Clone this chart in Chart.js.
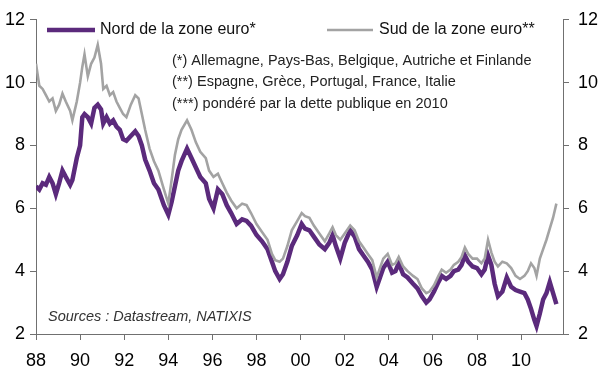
<!DOCTYPE html>
<html>
<head>
<meta charset="utf-8">
<script src="https://cdn.jsdelivr.net/npm/chart.js@4.4.0/dist/chart.umd.min.js"></script>
<style>
  html, body { margin: 0; padding: 0; background: #fff; }
</style>
</head>
<body>
<canvas id="chart" width="604" height="378"></canvas>
<script>
// dates as decimal years, values in %
const dates = [
  1988.0, 1988.15, 1988.3, 1988.45, 1988.6, 1988.75, 1988.9, 1989.05, 1989.2, 1989.35,
  1989.55, 1989.65, 1989.85, 1990.0, 1990.1, 1990.2, 1990.35, 1990.5, 1990.65, 1990.8,
  1990.95, 1991.05, 1991.2, 1991.35, 1991.5, 1991.65, 1991.8, 1991.95, 1992.1, 1992.3,
  1992.5, 1992.65, 1992.8, 1992.95, 1993.15, 1993.35, 1993.55, 1993.8, 1994.0, 1994.15,
  1994.3, 1994.45, 1994.6, 1994.85, 1995.05, 1995.25, 1995.45, 1995.7, 1995.85, 1996.05,
  1996.25, 1996.45, 1996.65, 1996.85, 1997.1, 1997.35, 1997.55, 1997.75, 1998.0, 1998.25,
  1998.5, 1998.7, 1998.85, 1999.05, 1999.2, 1999.4, 1999.6, 1999.85, 2000.05, 2000.2,
  2000.4, 2000.6, 2000.85, 2001.1, 2001.3, 2001.45, 2001.6, 2001.8, 2002.0, 2002.25,
  2002.45, 2002.65, 2002.85, 2003.05, 2003.25, 2003.45, 2003.6, 2003.75, 2003.95, 2004.15,
  2004.3, 2004.45, 2004.65, 2004.85, 2005.1, 2005.3, 2005.5, 2005.7, 2005.85, 2006.05,
  2006.25, 2006.4, 2006.6, 2006.8, 2006.95, 2007.15, 2007.3, 2007.45, 2007.6, 2007.8,
  2008.0, 2008.2, 2008.35, 2008.5, 2008.65, 2008.8, 2008.95, 2009.15, 2009.35, 2009.55,
  2009.75, 2009.95, 2010.15, 2010.3, 2010.45, 2010.6, 2010.7, 2010.85, 2011.0, 2011.15,
  2011.3, 2011.45, 2011.6
];
const nord = [
  6.7, 6.6, 6.8, 6.75, 7.0, 6.8, 6.45, 6.8, 7.2, 7.0,
  6.75, 6.9, 7.6, 8.0, 8.9, 9.0, 8.9, 8.7, 9.2, 9.3,
  9.15, 8.7, 8.9, 8.7, 8.8, 8.6, 8.5, 8.2, 8.15, 8.3,
  8.45, 8.3, 8.0, 7.55, 7.2, 6.8, 6.6, 6.1, 5.8, 6.2,
  6.7, 7.2, 7.5, 7.9, 7.6, 7.3, 7.0, 6.8, 6.3, 6.0,
  6.6, 6.45, 6.1, 5.85, 5.5, 5.65, 5.6, 5.45, 5.15, 4.95,
  4.7, 4.3, 4.0, 3.75, 3.9, 4.3, 4.8, 5.15, 5.5, 5.35,
  5.3, 5.1, 4.85, 4.7, 4.9, 5.15, 4.8, 4.4, 4.9, 5.3,
  5.1, 4.7, 4.5, 4.3, 4.05, 3.5, 3.8, 4.1, 4.3, 3.95,
  4.0, 4.25, 3.9, 3.8, 3.6, 3.45, 3.2, 3.0, 3.1, 3.35,
  3.65, 3.85, 3.75, 3.85, 4.0, 4.05, 4.2, 4.5, 4.3, 4.15,
  4.1, 3.9, 4.05, 4.5, 4.2, 3.6, 3.2, 3.35, 3.8, 3.5,
  3.4, 3.35, 3.3, 3.1, 2.8, 2.45, 2.25, 2.65, 3.1, 3.3,
  3.65, 3.3, 2.95
];
const sud = [
  10.6, 9.9, 9.8, 9.6, 9.4, 9.5, 9.1, 9.3, 9.65, 9.4,
  9.1, 8.8, 9.4, 10.0, 10.5, 10.9, 10.2, 10.6, 10.8, 11.2,
  10.6, 9.8, 9.9, 9.6, 9.7, 9.4, 9.2, 9.0, 8.9, 9.3,
  9.6, 9.5, 9.0, 8.5, 7.9, 7.5, 7.2, 6.6, 6.15, 6.9,
  7.7, 8.2, 8.5, 8.8, 8.5, 8.1, 7.8, 7.6, 7.2, 7.0,
  7.1, 6.8, 6.5, 6.25, 6.0, 6.15, 6.1, 5.85, 5.5, 5.25,
  5.0, 4.55, 4.35, 4.3, 4.4, 4.8, 5.3, 5.6, 5.85, 5.75,
  5.7, 5.45, 5.2, 4.95, 5.2, 5.4, 5.15, 5.0, 5.2, 5.45,
  5.3, 4.95, 4.75, 4.55, 4.35, 3.8, 4.1, 4.4, 4.55, 4.2,
  4.25, 4.45, 4.15, 4.0, 3.85, 3.75, 3.45, 3.3, 3.35, 3.55,
  3.85, 4.05, 3.95, 4.05, 4.2, 4.3, 4.45, 4.75, 4.55, 4.4,
  4.4, 4.25, 4.4, 5.0, 4.6, 4.3, 4.15, 4.3, 4.25, 4.1,
  3.85, 3.75, 3.85, 4.0, 4.25, 4.1, 3.85, 4.4, 4.7, 5.0,
  5.35, 5.7, 6.15
];
const xTicks = [1988, 1990, 1992, 1994, 1996, 1998, 2000, 2002, 2004, 2006, 2008, 2010];
const yTicks = [2, 4, 6, 8, 10, 12];
const seriesNames = ['Nord de la zone euro*', 'Sud de la zone euro**'];
const notes = [
  '(*) Allemagne, Pays-Bas, Belgique, Autriche et Finlande',
  '(**) Espagne, Grèce, Portugal, France, Italie',
  '(***) pondéré par la dette publique en 2010'
];
const sourceText = 'Sources : Datastream, NATIXIS';

const purple = '#5b2a7c';
const grey = '#a3a3a3';
const axisColor = '#707070';
const tickFont = { family: 'Liberation Sans, Arial, sans-serif', size: 18 };

// legend + notes drawn by hand, like the original
const textPlugin = {
  id: 'texts',
  afterDraw(chart) {
    const ctx = chart.ctx;
    ctx.save();
    ctx.lineCap = 'butt';
    ctx.strokeStyle = purple;
    ctx.lineWidth = 4.5;
    ctx.beginPath(); ctx.moveTo(47, 30); ctx.lineTo(95, 30); ctx.stroke();
    ctx.strokeStyle = grey;
    ctx.lineWidth = 2.5;
    ctx.beginPath(); ctx.moveTo(327, 30); ctx.lineTo(373, 30); ctx.stroke();

    ctx.fillStyle = '#111';
    ctx.textBaseline = 'middle';
    ctx.font = '16px "Liberation Sans", Arial, sans-serif';
    ctx.fillText(seriesNames[0], 100, 30);
    ctx.fillText(seriesNames[1], 379, 30);

    ctx.font = '14.5px "Liberation Sans", Arial, sans-serif';
    ctx.fillStyle = '#222';
    [61, 82, 104].forEach((y, i) => ctx.fillText(notes[i], 172, y));

    ctx.font = 'italic 14.5px "Liberation Sans", Arial, sans-serif';
    ctx.fillStyle = '#333';
    ctx.fillText(sourceText, 48, 317);
    ctx.restore();
  }
};

const yAxis = (pos, w, pad) => ({
  type: 'linear',
  position: pos,
  min: 2,
  max: 12,
  afterBuildTicks: (s) => { s.ticks = yTicks.map(v => ({ value: v })); },
  afterFit: (s) => { s.width = w; },
  grid: { drawOnChartArea: false, tickLength: 6, color: axisColor },
  border: { color: axisColor },
  ticks: { color: '#000', font: tickFont, padding: pad }
});

new Chart(document.getElementById('chart'), {
  type: 'line',
  data: {
    datasets: [
      {
        label: seriesNames[0],
        data: dates.map((d, i) => ({ x: d, y: nord[i] })),
        borderColor: purple,
        borderWidth: 4.5,
        pointRadius: 0,
        order: 2
      },
      {
        label: seriesNames[1],
        data: dates.map((d, i) => ({ x: d, y: sud[i] })),
        borderColor: grey,
        borderWidth: 2.6,
        pointRadius: 0,
        order: 1,
        yAxisID: 'y'
      }
    ]
  },
  options: {
    responsive: false,
    animation: false,
    layout: { padding: { top: 14, left: 0, right: 0, bottom: 0 } },
    plugins: { legend: { display: false }, tooltip: { enabled: false } },
    scales: {
      x: {
        type: 'linear',
        min: 1988,
        max: 2011.9,
        afterBuildTicks: (s) => { s.ticks = xTicks.map(v => ({ value: v })); },
        afterFit: (s) => { s.height = 44; },
        grid: { drawOnChartArea: false, tickLength: 6, color: axisColor },
        border: { color: axisColor },
        ticks: {
          color: '#000',
          font: tickFont,
          padding: 10,
          maxRotation: 0,
          callback: (v) => String(v % 100).padStart(2, '0')
        }
      },
      y: yAxis('left', 36, 5),
      y2: yAxis('right', 41, 9)
    }
  },
  plugins: [textPlugin]
});
</script>
</body>
</html>
